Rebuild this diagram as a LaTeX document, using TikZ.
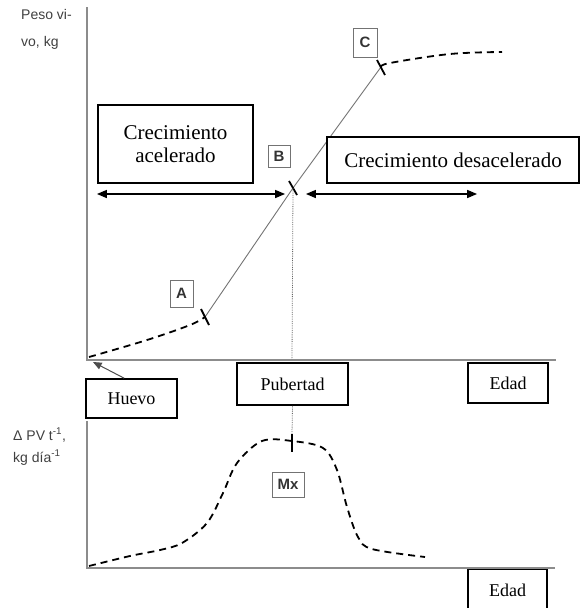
\documentclass[tikz,border=0pt]{standalone}
\usepackage{fontspec}
\setmainfont{Liberation Serif}
\setsansfont{Liberation Sans}
\usetikzlibrary{arrows}

\begin{document}
\begin{tikzpicture}[x=1pt, y=-1pt,
		caja/.style={draw=black, line width=1.7pt, fill=white, inner sep=0pt, align=center, font=\fontsize{21}{23}\selectfont},
		cajita/.style={draw=black, line width=1.7pt, fill=white, inner sep=0pt, font=\fontsize{18}{20}\selectfont},
		letra/.style={draw=black!55, line width=.9pt, inner sep=0pt, text=black!80, font=\sffamily\bfseries\fontsize{15}{16}\selectfont},
		eje/.style={draw=black!45, line width=1.3pt},
		rotulo/.style={text=black!75, align=left, inner sep=0pt, font=\sffamily\fontsize{14}{27}\selectfont},
		tramo/.style={line width=1.8pt, dash pattern=on 7pt off 5pt},
		marca/.style={line width=1.8pt}]
	\useasboundingbox (0,0) rectangle (582,608);
	% ejes
	\draw[eje] (87,7) -- (87,360) -- (556,360);
	\draw[eje] (87,421) -- (87,568) -- (555,568);
	\node[rotulo, anchor=north west] (peso) at (21,9) {Peso vi-\\vo, kg};
	\node[rotulo, anchor=north west, font=\sffamily\fontsize{14}{22}\selectfont] (tasa) at (13,428) {Δ PV t\textsuperscript{-1},\\ kg día\textsuperscript{-1}};
	% curva de peso
	\coordinate (a) at (205,317);
	\coordinate (b) at (293,188);
	\coordinate (c) at (381,67);
	\draw[tramo] plot[smooth, tension=.6] coordinates {(89,357) (147,340) (190,325) (a)};
	\draw[black!55, line width=.9pt] (a) -- (b) -- (c);
	\draw[tramo] plot[smooth, tension=.6] coordinates {(c) (390,63) (450,54) (502,52)};
	\draw[marca] (201,309) -- (209,325);
	\draw[marca] (289,181) -- (297,195);
	\draw[marca] (377,60) -- (385,75);
	\draw[black!60, densely dotted, line width=.8pt] (b) -- (292,359);
	% flechas de las fases
	\coordinate (i1) at (97,194);
	\coordinate (d1) at (285,194);
	\coordinate (i2) at (306,194);
	\coordinate (d2) at (477,194);
	\draw[triangle 45-triangle 45, line width=1.3pt] (i1) -- (d1);
	\draw[triangle 45-triangle 45, line width=1.3pt] (i2) -- (d2);
	\node[caja, minimum width=155pt, minimum height=78pt] (acel) at (175.5,144) {Crecimiento\\acelerado};
	\node[caja, minimum width=252pt, minimum height=46pt] (desacel) at (453,160) {Crecimiento desacelerado};
	\node[letra, minimum width=23pt, minimum height=27pt] (la) at (181.5,293.5) {A};
	\node[letra, minimum width=22pt, minimum height=22pt] (lb) at (279,156) {B};
	\node[letra, minimum width=24pt, minimum height=29pt] (lc) at (365,42.5) {C};
	% cajas bajo el eje
	\node[cajita, minimum width=91pt, minimum height=39pt] (huevo) at (131.5,398.5) {Huevo};
	\node[cajita, minimum width=111pt, minimum height=42pt] (pub) at (292.5,384) {Pubertad};
	\node[cajita, minimum width=80pt, minimum height=40pt] (edad) at (508,383) {Edad};
	\coordinate (origen) at (93,362);
	\draw[-triangle 45, black!70, line width=1pt] (huevo.110) -- (origen);
	% curva de ganancia
	\coordinate (mx) at (292,441);
	\draw[tramo] plot[smooth, tension=.55] coordinates {(89,566) (130,556) (160,550) (182,543) (207,523) (223,493) (237,463) (262,441) (mx) (323,448) (337,470) (347,507) (358,537) (372,549) (425,557)};
	\draw[marca] (292,434) -- (292,452);
	\draw[black!60, densely dotted, line width=.8pt] (pub.south) -- (292,434);
	\node[letra, minimum width=32pt, minimum height=25pt] (lmx) at (288,484.5) {Mx};
	\node[cajita, minimum width=79pt, minimum height=41pt] (edad2) at (507.5,590) {Edad};
\end{tikzpicture}
\end{document}
